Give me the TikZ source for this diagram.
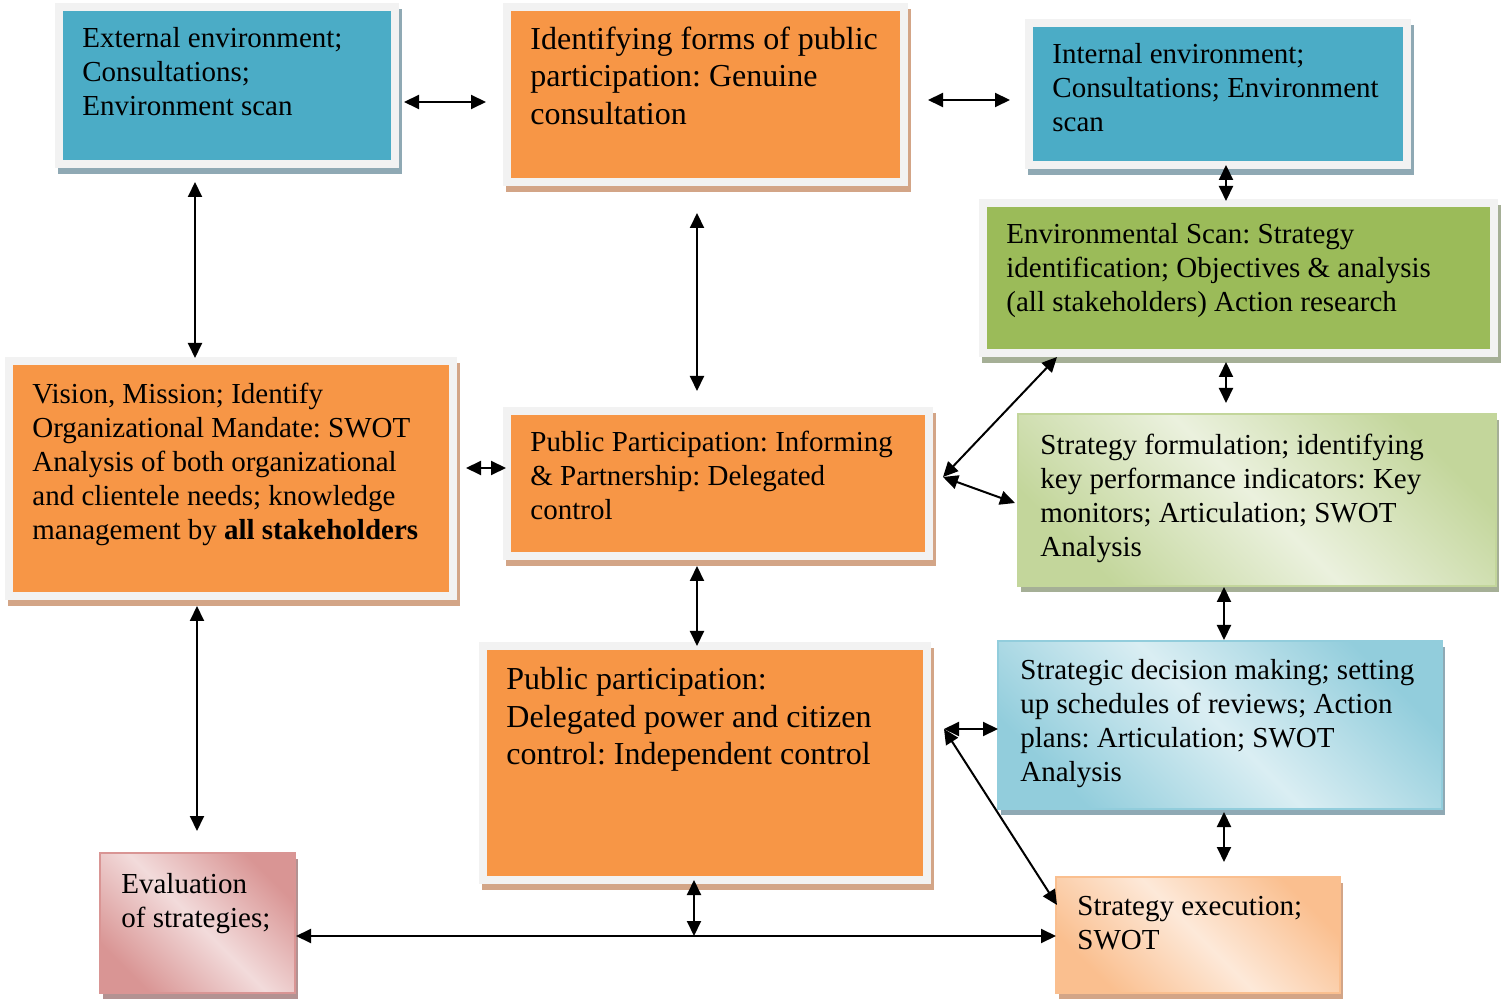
\documentclass[tikz,border=0pt]{standalone}
\usepackage{fontspec}
\setmainfont{Liberation Serif}
\usetikzlibrary{arrows.meta,shadows}
\frenchspacing

\definecolor{frame}{HTML}{F2F2F2}
\definecolor{bluefill}{HTML}{4BACC6}
\definecolor{blueshadow}{HTML}{8FA9B4}
\definecolor{orangefill}{HTML}{F79646}
\definecolor{orangeshadow}{HTML}{D3A587}
\definecolor{greenfill}{HTML}{9BBB59}
\definecolor{greenshadow}{HTML}{A5AF96}
\definecolor{greendark}{HTML}{C3D69B}
\definecolor{greenlight}{HTML}{EBF1DE}
\definecolor{skydark}{HTML}{92CDDC}
\definecolor{skylight}{HTML}{DAEEF3}
\definecolor{peachdark}{HTML}{FABF8F}
\definecolor{peachlight}{HTML}{FDE9D9}
\definecolor{rosedark}{HTML}{D99594}
\definecolor{roselight}{HTML}{F2DBDB}
\definecolor{roseshadow}{HTML}{B39292}

\begin{document}
\begin{tikzpicture}[x=0.5pt, y=-0.5pt,
  box/.style={rectangle, inner sep=0pt, outer sep=0pt, anchor=north west},
  thickbox/.style 2 args={box, fill=frame,
    path picture={\fill[#1] ([shift={(4pt,-4pt)}]path picture bounding box.north west)
      rectangle ([shift={(-4pt,4pt)}]path picture bounding box.south east);},
    drop shadow={shadow xshift=1.5pt, shadow yshift=-3pt, fill=#2, opacity=1}},
  gradbox/.style n args={3}{box, draw=#1, line width=1pt,
    top color=#1, bottom color=#1, middle color=#2, shading angle=-45,
    drop shadow={shadow xshift=1.5pt, shadow yshift=-3pt, fill=#3, opacity=1}},
  txt/.style={inner sep=0pt, anchor=north west, align=left,
    font=\fontsize{14.5}{17}\selectfont},
  bigtxt/.style={txt, font=\fontsize{16}{18.75}\selectfont},
  dbl/.style={{Triangle[length=7.5pt,width=7pt]}-{Triangle[length=7.5pt,width=7pt]}, line width=1pt}]

  \useasboundingbox (0,0) rectangle (1505,999);

  % boxes
  \node[thickbox={bluefill}{blueshadow}, minimum width=172pt, minimum height=82.5pt] (ext) at (55,3) {};
  \node[thickbox={orangefill}{orangeshadow}, minimum width=202.5pt, minimum height=91.5pt] (ident) at (503,3) {};
  \node[thickbox={bluefill}{blueshadow}, minimum width=193pt, minimum height=75pt] (int) at (1025,19) {};
  \node[thickbox={greenfill}{greenshadow}, minimum width=259.5pt, minimum height=79pt] (env) at (979,199) {};
  \node[thickbox={orangefill}{orangeshadow}, minimum width=226pt, minimum height=121.5pt] (vision) at (5,357) {};
  \node[thickbox={orangefill}{orangeshadow}, minimum width=215pt, minimum height=76.5pt] (inform) at (503,407) {};
  \node[thickbox={orangefill}{orangeshadow}, minimum width=226pt, minimum height=121pt] (deleg) at (479,642) {};
  \node[gradbox={greendark}{greenlight}{greenshadow}, minimum width=239pt, minimum height=86pt] (formul) at (1018,414) {};
  \node[gradbox={skydark}{skylight}{blueshadow}, minimum width=222pt, minimum height=84pt] (decis) at (998,641) {};
  \node[gradbox={peachdark}{peachlight}{orangeshadow}, minimum width=142pt, minimum height=58pt] (exec) at (1056,877) {};
  \node[gradbox={rosedark}{roselight}{roseshadow}, minimum width=97.5pt, minimum height=70pt] (eval) at (100,853) {};

  % texts
  \node[txt] (extText) at (82,27.2) {External environment;\\Consultations;\\Environment scan};
  \node[bigtxt] (identText) at (530,26.1) {Identifying forms of public\\participation: Genuine\\consultation};
  \node[txt] (intText) at (1052,43.2) {Internal environment;\\Consultations; Environment\\scan};
  \node[txt] (envText) at (1006,223.2) {Environmental Scan: Strategy\\identification; Objectives \& analysis\\(all stakeholders) Action research};
  \node[txt] (visionText) at (32,382.2) {Vision, Mission; Identify\\Organizational Mandate: SWOT\\Analysis of both organizational\\and clientele needs; knowledge\\management by \textbf{all stakeholders}};
  \node[txt] (informText) at (530,430.2) {Public Participation: Informing\\\& Partnership: Delegated\\control};
  \node[bigtxt] (delegText) at (506,667.1) {Public participation:\\Delegated power and citizen\\control: Independent control};
  \node[txt] (formulText) at (1040,433.2) {Strategy formulation; identifying\\key performance indicators: Key\\monitors; Articulation; SWOT\\Analysis};
  \node[txt] (decisText) at (1020,659.2) {Strategic decision making; setting\\up schedules of reviews; Action\\plans: Articulation; SWOT\\Analysis};
  \node[txt] (execText) at (1077,896.2) {Strategy execution;\\SWOT};
  \node[txt] (evalText) at (121,873.2) {Evaluation\\of strategies;};

  % connectors
  \coordinate (junc) at (694,936);

  \draw[dbl] ([shift={(5,16.5)}]ext.east) -- ([shift={(-17,7.5)}]ident.west);
  \draw[dbl] ([shift={(20,5.5)}]ident.east) -- ([shift={(-15,6)}]int.west);
  \draw[dbl] ([shift={(-32,14)}]ext.south) -- ([shift={(-36,1)}]vision.north);
  \draw[dbl] ([shift={(-8.5,27)}]ident.south) -- ([shift={(-21,-16)}]inform.north);
  \draw[dbl] ([shift={(8,-4)}]int.south) -- ([shift={(-12.5,2)}]env.north);
  \draw[dbl] ([shift={(-12.5,5)}]env.south) -- ([shift={(-31,-11)}]formul.north);
  \draw[dbl] ([shift={(9,-10.5)}]vision.east) -- ([shift={(3,-15.5)}]inform.west);
  \draw[dbl] ([shift={(10,-6.5)}]inform.east) -- ([shift={(78,0)}]env.south west);
  \draw[dbl] ([shift={(10,-6.5)}]inform.east) -- ([shift={(-3,3)}]formul.west);
  \draw[dbl] ([shift={(-21,6)}]inform.south) -- ([shift={(-8,4)}]deleg.north);
  \draw[dbl] ([shift={(-34,6)}]vision.south) -- ([shift={(-0.5,-22)}]eval.north);
  \draw[dbl] ([shift={(-33,1)}]formul.south) -- ([shift={(4,-1)}]decis.north);
  \draw[dbl] ([shift={(13,-34)}]deleg.east) -- ([shift={(0,4)}]decis.west);
  \draw[dbl] ([shift={(13,-34)}]deleg.east) -- ([shift={(1,-30)}]exec.west);
  \draw[dbl] ([shift={(4,3)}]decis.south) -- ([shift={(26,-15)}]exec.north);
  \draw[dbl] ([shift={(1,13)}]eval.east) -- ([shift={(0,1)}]exec.west);
  \draw[dbl] ([shift={(-11,-4)}]deleg.south) -- (junc);

\end{tikzpicture}
\end{document}
